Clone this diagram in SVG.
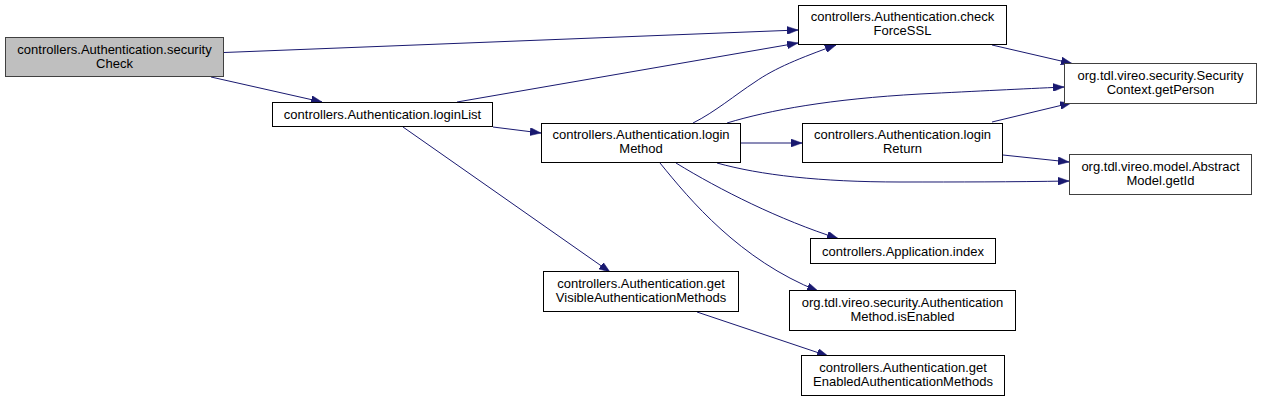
<svg xmlns="http://www.w3.org/2000/svg" width="1261" height="401" viewBox="0 0 1261 401">
<defs>
<style>
.n rect{fill:#ffffff;stroke:#000000;stroke-width:1}
.n.g rect{stroke:#404040}
.n.root rect{fill:#bfbfbf;stroke:#404040}
.n text{font-family:"Liberation Sans",Arial,Helvetica,sans-serif;font-size:13px;fill:#000000;text-anchor:middle}
.e path{fill:none;stroke:#191970;stroke-width:1;marker-end:url(#ah)}
</style>
<marker id="ah" viewBox="0 0 11 8" refX="11" refY="4" markerWidth="11" markerHeight="8" markerUnits="userSpaceOnUse" orient="auto">
<path d="M0,0 L11,4 L0,8 Z" fill="#191970" stroke="#191970" stroke-width="0.5"/>
</marker>
</defs>
<rect width="1261" height="401" fill="#ffffff"/>
<g id="edges" class="e">
<path d="M224,52.5 L798,30"/>
<path d="M211,77 L322,102"/>
<path d="M457,102 L798,43"/>
<path d="M493,127 L541,133"/>
<path d="M403,127 L610,272"/>
<path d="M693,123 C715,112 735,95 755,82 C775,68 800,58 836,45"/>
<path d="M727,123 C770,110 830,99 920,94 C980,91 1020,89 1064,87"/>
<path d="M741,143 L802,143"/>
<path d="M717,163 C760,175 820,182 900,182 C960,182 1010,182 1069,181"/>
<path d="M992,122 L1071,103"/>
<path d="M1003,155 L1069,162"/>
<path d="M992,45 L1072,63.5"/>
<path d="M676,163 C720,190 780,220 838,238.5"/>
<path d="M660,163 C690,200 740,260 818,291"/>
<path d="M697,312 L828,356"/>
</g>
<g id="node-securityCheck" class="n root">
<rect x="5.5" y="37.5" width="218" height="39"/>
<text x="114.5" y="53.5">controllers.Authentication.security</text>
<text x="114.5" y="67.5">Check</text>
</g>
<g id="node-loginList" class="n">
<rect x="272.5" y="102.5" width="220" height="24"/>
<text x="382.5" y="119">controllers.Authentication.loginList</text>
</g>
<g id="node-checkForceSSL" class="n">
<rect x="798.5" y="5.5" width="208" height="39"/>
<text x="902.5" y="21">controllers.Authentication.check</text>
<text x="902.5" y="35">ForceSSL</text>
</g>
<g id="node-loginMethod" class="n">
<rect x="541.5" y="123.5" width="199" height="39"/>
<text x="641" y="139">controllers.Authentication.login</text>
<text x="641" y="153">Method</text>
</g>
<g id="node-loginReturn" class="n">
<rect x="802.5" y="123.5" width="200" height="39"/>
<text x="902.5" y="139">controllers.Authentication.login</text>
<text x="902.5" y="153">Return</text>
</g>
<g id="node-getPerson" class="n g">
<rect x="1064.5" y="63.5" width="192" height="40"/>
<text x="1160.5" y="79.5">org.tdl.vireo.security.Security</text>
<text x="1160.5" y="93.5">Context.getPerson</text>
</g>
<g id="node-getId" class="n g">
<rect x="1069.5" y="154.5" width="182" height="40"/>
<text x="1160.5" y="170.5">org.tdl.vireo.model.Abstract</text>
<text x="1160.5" y="184.5">Model.getId</text>
</g>
<g id="node-index" class="n">
<rect x="810.5" y="238.5" width="185" height="25"/>
<text x="903" y="255.5">controllers.Application.index</text>
</g>
<g id="node-isEnabled" class="n">
<rect x="789.5" y="290.5" width="226" height="40"/>
<text x="902.5" y="306.5">org.tdl.vireo.security.Authentication</text>
<text x="902.5" y="320.5">Method.isEnabled</text>
</g>
<g id="node-getVisible" class="n">
<rect x="543.5" y="271.5" width="195" height="40"/>
<text x="641" y="287.5">controllers.Authentication.get</text>
<text x="641" y="301.5">VisibleAuthenticationMethods</text>
</g>
<g id="node-getEnabled" class="n">
<rect x="801.5" y="355.5" width="203" height="40"/>
<text x="903" y="371.5">controllers.Authentication.get</text>
<text x="903" y="385.5">EnabledAuthenticationMethods</text>
</g>
</svg>
